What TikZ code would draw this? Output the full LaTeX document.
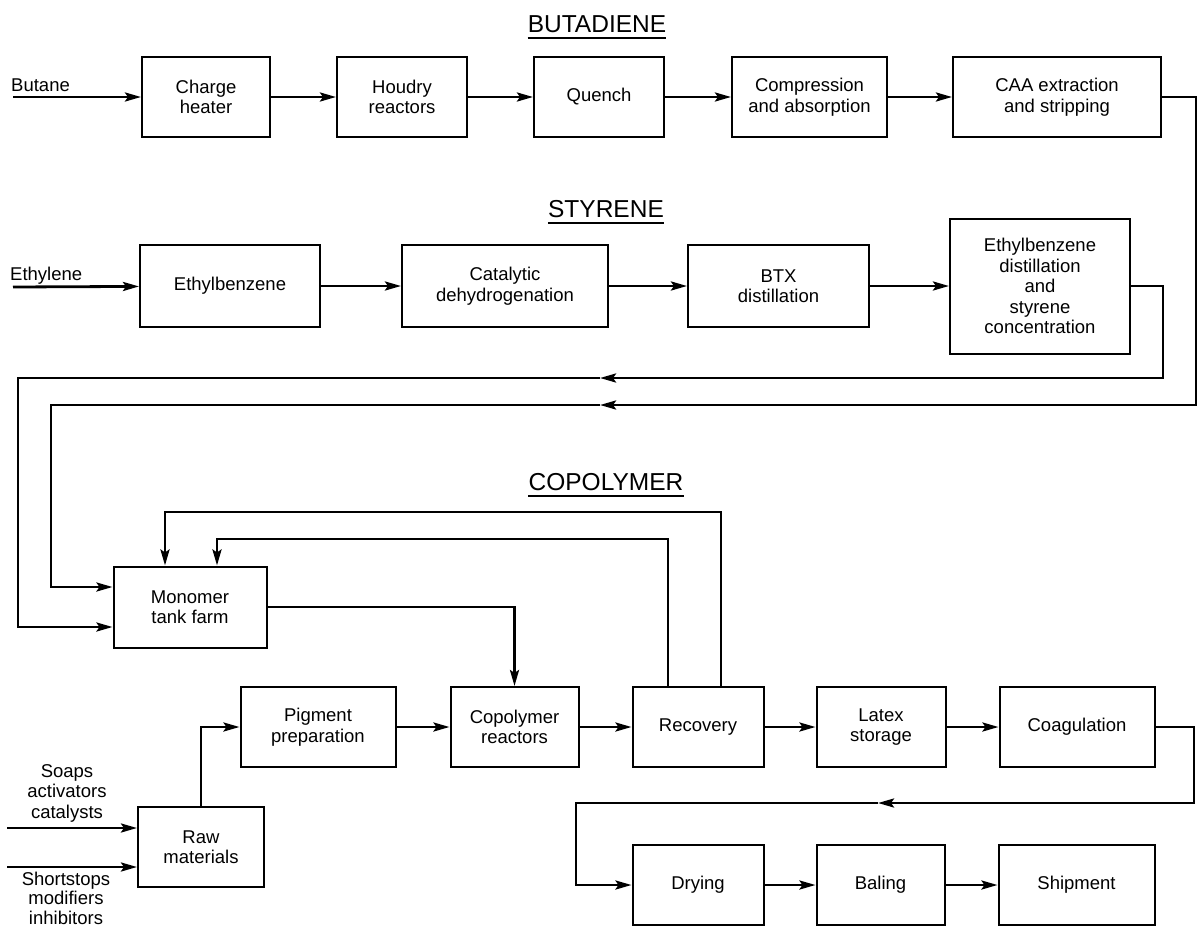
\documentclass[tikz,border=0pt]{standalone}
\usepackage{fontspec}
\setmainfont{Liberation Sans}
\usetikzlibrary{arrows.meta,positioning}

\begin{document}
\begin{tikzpicture}[
  x=1pt, y=1pt,
  font=\fontsize{18.5}{20.5}\selectfont,
  >={Stealth[length=16pt, width=9pt, inset=3pt]},
  unit/.style={rectangle, draw, line width=2pt, minimum width=130pt,
               minimum height=80pt, align=center, inner sep=2pt},
  title/.style={font=\fontsize{24.5}{26}\selectfont, inner sep=0pt, anchor=base},
  feed/.style={align=center, inner sep=0pt},
  link/.style={->, line width=2.8pt},
  rule/.style={line width=2pt},
]
\useasboundingbox (0,0) rectangle (1199,-926);

% butadiene train
\node[title] (tbd) at (597,-32) {BUTADIENE};
\node[unit, minimum width=128pt] (charge) at (206,-97) {Charge\\heater};
\node[unit, right=65pt of charge] (houdry) {Houdry\\reactors};
\node[unit, right=65pt of houdry] (quench) {Quench};
\node[unit, minimum width=155pt, right=66pt of quench] (compr) {Compression\\and absorption};
\node[unit, minimum width=208pt, right=64pt of compr] (caa) {CAA extraction\\and stripping};
\node[feed, anchor=west] (butane) at (11,-85) {Butane};
\coordinate (butin) at (13,-97);

% styrene train
\node[title] (tst) at (606,-217) {STYRENE};
\node[unit, minimum width=180pt, minimum height=82pt] (ebz) at (230,-286) {Ethylbenzene};
\node[unit, minimum width=206pt, minimum height=82pt, right=80pt of ebz] (dehyd) {Catalytic\\dehydrogenation};
\node[unit, minimum width=181pt, minimum height=82pt, right=78pt of dehyd] (btx) {BTX\\distillation};
\node[unit, minimum width=180pt, minimum height=135pt, right=79pt of btx] (ebdist)
  {Ethylbenzene\\distillation\\and\\styrene\\concentration};
\node[feed, anchor=west] (ethylene) at (10,-276) {Ethylene};
\coordinate (ethin) at (13,-287);

% copolymer plant
\node[title] (tco) at (606,-490) {COPOLYMER};
\node[unit, minimum width=153pt, minimum height=81pt] (monomer) at (190,-607) {Monomer\\tank farm};
\node[unit, minimum width=155pt] (pigment) at (318,-727) {Pigment\\preparation};
\node[unit, minimum width=128pt, right=53pt of pigment] (coreact) {Copolymer\\reactors};
\node[unit, minimum width=131pt, right=52pt of coreact] (recov) {Recovery};
\node[unit, minimum width=129pt, right=51pt of recov] (latex) {Latex\\storage};
\node[unit, minimum width=155pt, right=52pt of latex] (coag) {Coagulation};
\node[unit, minimum width=126pt] (raw) at (201,-847) {Raw\\materials};
\node[unit, minimum width=131pt, below=76pt of recov] (drying) {Drying};
\node[unit, minimum width=128pt, right=51pt of drying] (baling) {Baling};
\node[unit, minimum width=156pt, right=52pt of baling] (ship) {Shipment};
\node[feed] (soaps) at (67,-793) {Soaps\\activators\\catalysts};
\node[feed, font=\fontsize{18.5}{19.5}\selectfont] (stops) at (66,-898) {Shortstops\\modifiers\\inhibitors};
\coordinate (feedA) at (7,-828);
\coordinate (feedB) at (7,-867);

% underlines of the headings
\foreach \t in {tbd,tst,tco}
  \draw[rule] ([yshift=-6pt]\t.base west) -- ([yshift=-6pt]\t.base east);

% bends of the long return lines
\coordinate (bdR) at (1196,-405);
\coordinate (bdM) at (600,-405);
\coordinate (bdL) at (51,-587);
\coordinate (stR) at (1163,-378);
\coordinate (stM) at (600,-378);
\coordinate (stL) at (18,-627);
\coordinate (rcOut) at (721,-512);
\coordinate (rcIn) at (668,-539);
\coordinate (cgR) at (1194,-803);
\coordinate (cgM) at (878,-803);
\coordinate (cgL) at (576,-882);

\draw[link] (butin) -- (charge);
\draw[link] (charge) -- (houdry);
\draw[link] (houdry) -- (quench);
\draw[link] (quench) -- (compr);
\draw[link] (compr) -- (caa);

\draw[link] (ethin) -- (ebz);
\draw[link] (ebz) -- (dehyd);
\draw[link] (dehyd) -- (btx);
\draw[link] (btx) -- (ebdist);

\draw[link] (caa.east) -| (bdR) -- (bdM);
\draw[link] (bdM) -| (bdL) -- (bdL -| monomer.west);
\draw[link] (ebdist.east) -| (stR) -- (stM);
\draw[link] (stM) -| (stL) -- (stL -| monomer.west);

\draw[link] (monomer.east) -| (coreact.north);
\draw[link] (recov.north -| rcOut) -- (rcOut) -| ([xshift=-25pt]monomer.north);
\draw[link] (recov.north -| rcIn) -- (rcIn) -| ([xshift=27pt]monomer.north);

\draw[link] (feedA) -- (feedA -| raw.west);
\draw[link] (feedB) -- (feedB -| raw.west);
\draw[link] (raw.north) |- (pigment.west);
\draw[link] (pigment) -- (coreact);
\draw[link] (coreact) -- (recov);
\draw[link] (recov) -- (latex);
\draw[link] (latex) -- (coag);

\draw[link] (coag.east) -| (cgR) -- (cgM);
\draw[link] (cgM) -| (drying.west -| cgL) -- (drying.west);
\draw[link] (drying) -- (baling);
\draw[link] (baling) -- (ship);

\end{tikzpicture}
\end{document}
